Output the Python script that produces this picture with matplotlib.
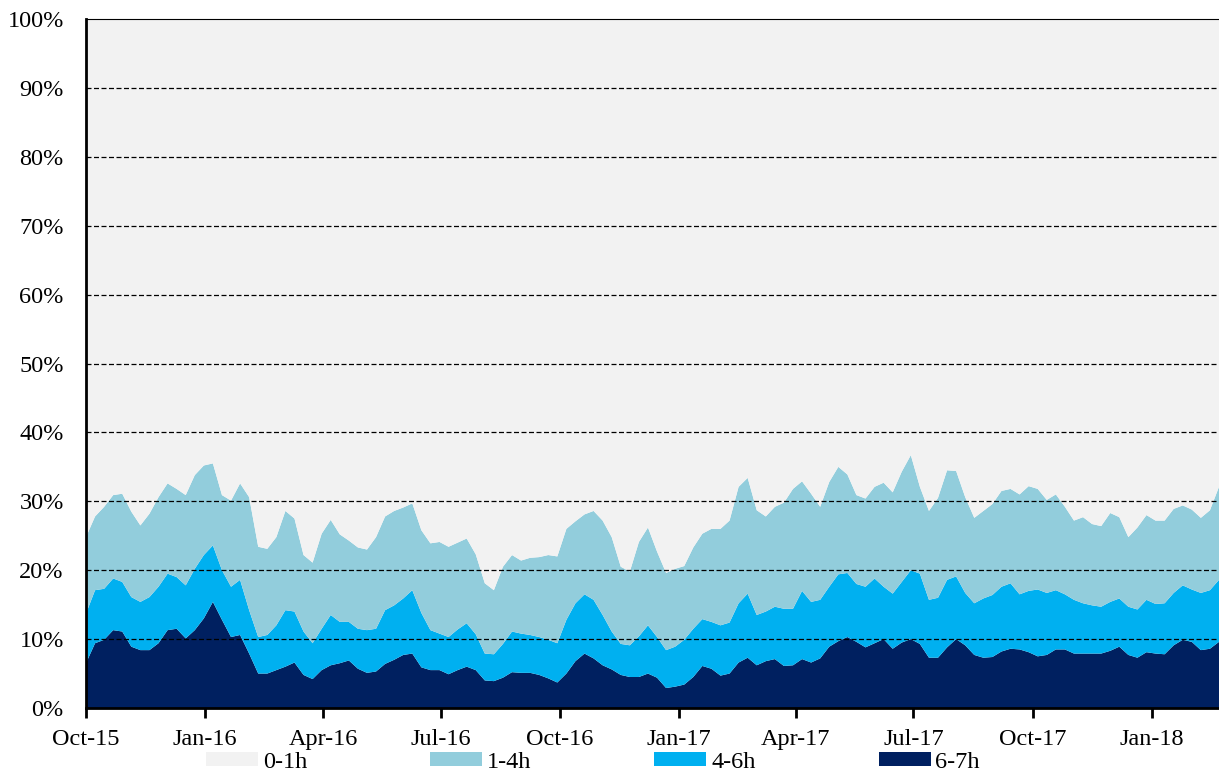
import matplotlib
matplotlib.use("Agg")
import matplotlib.pyplot as plt
import matplotlib.dates as mdates
from matplotlib.patches import Patch
import numpy as np
import pandas as pd

# weekly shares (%) of each duration band
start = "2015-10-01"
labels = ["0-1h", "1-4h", "4-6h", "6-7h"]
colors = ["#F2F2F2", "#92CDDC", "#00B0F0", "#002060"]

h67 = [6.5, 9.4, 9.9, 11.3, 11.1, 8.9, 8.4, 8.4, 9.4, 11.3, 11.5, 10.1, 11.3, 13.0, 15.4, 12.8,
       10.3, 10.6, 7.9, 5.0, 5.0, 5.5, 6.0, 6.6, 4.8, 4.2, 5.5, 6.2, 6.5, 6.9, 5.7, 5.1,
       5.3, 6.4, 7.0, 7.7, 7.9, 5.9, 5.5, 5.5, 4.9, 5.5, 6.0, 5.5, 4.0, 3.9, 4.4, 5.2,
       5.1, 5.1, 4.8, 4.3, 3.7, 5.0, 6.8, 7.9, 7.2, 6.2, 5.6, 4.8, 4.5, 4.5, 5.0, 4.4,
       2.9, 3.1, 3.4, 4.5, 6.1, 5.7, 4.7, 5.0, 6.6, 7.3, 6.2, 6.8, 7.1, 6.1, 6.2, 7.1,
       6.6, 7.2, 8.9, 9.7, 10.3, 9.6, 8.8, 9.4, 10.0, 8.6, 9.5, 10.0, 9.3, 7.3, 7.3, 8.8,
       10.0, 9.1, 7.7, 7.3, 7.4, 8.2, 8.6, 8.5, 8.1, 7.5, 7.7, 8.5, 8.5, 7.9, 7.9, 7.9,
       7.9, 8.3, 8.9, 7.7, 7.3, 8.1, 7.9, 7.8, 9.1, 9.9, 9.6, 8.4, 8.6, 9.6]
h46 = [7.2, 7.7, 7.4, 7.5, 7.2, 7.2, 7.0, 7.7, 8.2, 8.2, 7.5, 7.7, 8.9, 9.2, 8.2, 7.2,
       7.3, 8.0, 6.3, 5.3, 5.6, 6.5, 8.2, 7.4, 6.3, 5.2, 6.0, 7.3, 6.0, 5.6, 5.8, 6.2,
       6.2, 7.8, 7.9, 8.2, 9.2, 7.9, 5.8, 5.3, 5.4, 5.9, 6.3, 5.2, 3.9, 3.9, 4.9, 5.9,
       5.7, 5.5, 5.5, 5.6, 5.7, 7.8, 8.4, 8.6, 8.5, 7.3, 5.5, 4.5, 4.6, 5.9, 7.0, 5.9,
       5.5, 5.8, 6.5, 7.0, 6.8, 6.8, 7.3, 7.4, 8.6, 9.3, 7.3, 7.2, 7.6, 8.3, 8.2, 9.9,
       8.8, 8.5, 8.7, 9.7, 9.3, 8.4, 8.8, 9.4, 7.6, 8.0, 8.8, 10.0, 10.2, 8.4, 8.7, 9.8,
       9.1, 7.6, 7.5, 8.6, 9.0, 9.4, 9.5, 8.0, 8.9, 9.7, 9.0, 8.6, 8.0, 7.8, 7.3, 7.0,
       6.8, 7.1, 7.0, 7.0, 7.0, 7.6, 7.2, 7.4, 7.6, 7.9, 7.6, 8.3, 8.5, 9.0]
h14 = [11.1, 10.7, 11.9, 12.1, 12.8, 12.4, 11.1, 12.1, 13.0, 13.1, 12.8, 13.1, 13.6, 13.0, 11.9, 10.9,
       12.5, 14.0, 16.4, 13.1, 12.5, 12.8, 14.4, 13.5, 11.1, 11.7, 13.8, 13.8, 12.7, 11.8, 11.8, 11.7,
       13.3, 13.6, 13.7, 13.2, 12.6, 12.0, 12.6, 13.3, 13.1, 12.6, 12.3, 11.6, 10.2, 9.3, 11.2, 11.1,
       10.6, 11.2, 11.6, 12.3, 12.6, 13.2, 11.9, 11.6, 12.9, 13.7, 13.7, 11.2, 10.7, 13.7, 14.2, 12.4,
       11.2, 11.3, 10.7, 11.8, 12.4, 13.5, 14.0, 14.8, 16.9, 16.8, 15.2, 13.8, 14.5, 15.4, 17.4, 15.9,
       15.7, 13.5, 15.2, 15.6, 14.3, 12.9, 12.8, 13.3, 15.1, 14.7, 16.0, 16.7, 12.6, 12.9, 14.5, 15.9,
       15.3, 13.9, 12.4, 12.7, 13.2, 13.9, 13.7, 14.5, 15.2, 14.6, 13.5, 13.9, 12.7, 11.5, 12.5, 11.8,
       11.7, 12.9, 11.8, 10.1, 11.9, 12.3, 12.1, 12.0, 12.2, 11.6, 11.6, 10.9, 11.6, 13.5]
h01 = [75.2, 72.2, 70.8, 69.1, 68.9, 71.5, 73.5, 71.8, 69.4, 67.4, 68.2, 69.1, 66.2, 64.8, 64.5, 69.1,
       69.9, 67.4, 69.4, 76.6, 76.9, 75.2, 71.4, 72.5, 77.8, 78.9, 74.7, 72.7, 74.8, 75.7, 76.7, 77.0,
       75.2, 72.2, 71.4, 70.9, 70.3, 74.2, 76.1, 75.9, 76.6, 76.0, 75.4, 77.7, 81.9, 82.9, 79.5, 77.8,
       78.6, 78.2, 78.1, 77.8, 78.0, 74.0, 72.9, 71.9, 71.4, 72.8, 75.2, 79.5, 80.2, 75.9, 73.8, 77.3,
       80.4, 79.8, 79.4, 76.7, 74.7, 74.0, 74.0, 72.8, 67.9, 66.6, 71.3, 72.2, 70.8, 70.2, 68.2, 67.1,
       68.9, 70.8, 67.2, 65.0, 66.1, 69.1, 69.6, 67.9, 67.3, 68.7, 65.7, 63.3, 67.9, 71.4, 69.5, 65.5,
       65.6, 69.4, 72.4, 71.4, 70.4, 68.5, 68.2, 69.0, 67.8, 68.2, 69.8, 69.0, 70.8, 72.8, 72.3, 73.3,
       73.6, 71.7, 72.3, 75.2, 73.8, 72.0, 72.8, 72.8, 71.1, 70.6, 71.2, 72.4, 71.3, 67.9]

dates = pd.date_range(start, periods=len(h67), freq="7D")
tick_dates = pd.date_range("2015-10-01", "2018-01-01", freq="QS-OCT")

plt.rcParams["font.family"] = ["Liberation Serif", "DejaVu Serif"]
plt.rcParams["font.size"] = 17.5

fig = plt.figure(figsize=(12.19, 7.74), dpi=100)
ax = fig.add_axes([86 / 1219, 1 - 708 / 774, 1 - 86 / 1219, (708 - 19) / 774])

ax.stackplot(dates, h67, h46, h14, h01,
             colors=[colors[3], colors[2], colors[1], colors[0]], linewidth=0)

ax.set_xlim(dates[0], dates[-1])
ax.set_ylim(0, 100)
ax.set_yticks(np.arange(0, 101, 10))
ax.set_yticklabels([f"{v}%" for v in range(0, 101, 10)])
for v in range(10, 100, 10):
    ax.axhline(v, color="black", lw=0.9, ls=(0, (4, 2)), zorder=5)

ax.set_xticks(tick_dates)
ax.xaxis.set_major_formatter(mdates.DateFormatter("%b-%y"))
ax.tick_params(axis="x", direction="out", length=7, width=2, pad=8)
ax.tick_params(axis="y", length=0, pad=16)

ax.spines["left"].set_linewidth(2)
ax.spines["bottom"].set_linewidth(2)
ax.spines["top"].set_linewidth(0.8)
ax.spines["right"].set_visible(False)
for s in ax.spines.values():
    s.set_zorder(6)

handles = [Patch(facecolor=c, edgecolor="none") for c in colors]
fig.legend(handles, labels, loc="center left", bbox_to_anchor=(206 / 1219, 1 - 762 / 774),
           ncol=4, frameon=False, borderpad=0, borderaxespad=0,
           handlelength=2.14, handleheight=0.55, handletextpad=0.2, columnspacing=5.06)

fig.savefig("out.png", dpi=100)
